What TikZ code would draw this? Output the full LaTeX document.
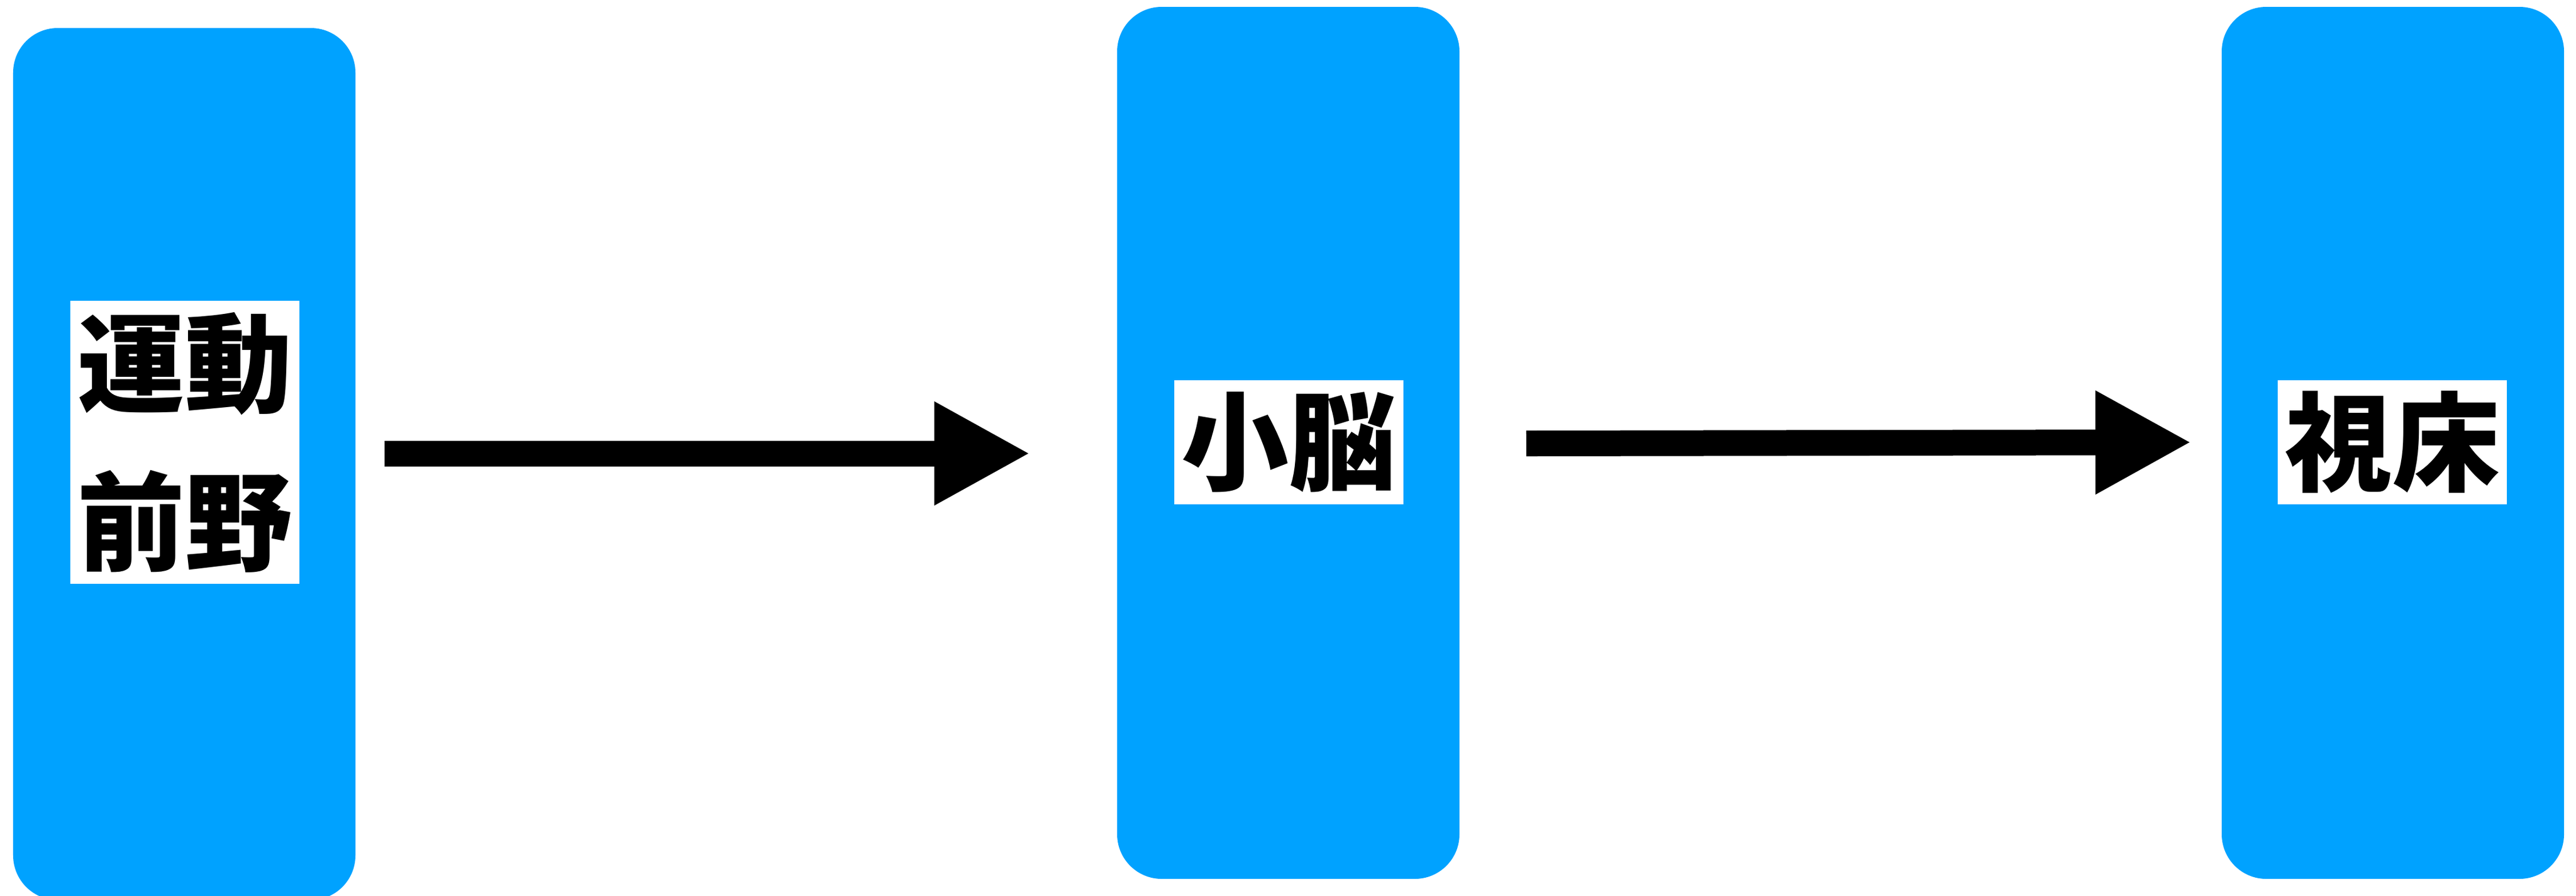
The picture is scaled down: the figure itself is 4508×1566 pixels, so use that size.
\documentclass[tikz,border=0pt]{standalone}
\usepackage{fontspec}
\newfontfamily\cjk{Noto Sans CJK JP}
\usetikzlibrary{arrows.meta}
\definecolor{boxblue}{RGB}{0,162,255}
\begin{document}
\begin{tikzpicture}[x=0.2pt,y=-0.2pt,
  column/.style={fill=boxblue, draw=none, rounded corners=15.6pt, inner sep=0pt,
    minimum width=119.8pt, minimum height=305pt},
  label/.style={fill=white, draw=none, inner sep=0pt, minimum width=80.2pt,
    align=center, font=\cjk\bfseries\fontsize{37.6}{55.4}\selectfont},
  bigarrow/.style={line width=9pt, -{Triangle[length=33.6pt,width=33.8pt]}}]
\useasboundingbox (0,0) rectangle (4508,1566);
\node[column] (b1) at (322.5,811.5) {};
\node[column] (b2) at (2254.5,774.5) {};
\node[column] (b3) at (4187.5,774.5) {};
\node[label, minimum height=99pt] (l1) at (323.5,773.5) {運動\\前野};
\node[label, minimum height=43.4pt] (l2) at (2255.5,773.5) {小脳};
\node[label, minimum height=43.4pt] (l3) at (4186.5,773.5) {視床};
\coordinate (a1s) at (673,793);
\coordinate (a1e) at (1803,793);
\coordinate (a2s) at (2671,775.5);
\coordinate (a2e) at (3835,773.5);
\draw[bigarrow] (a1s) -- (a1e);
\draw[bigarrow] (a2s) -- (a2e);
\end{tikzpicture}
\end{document}
